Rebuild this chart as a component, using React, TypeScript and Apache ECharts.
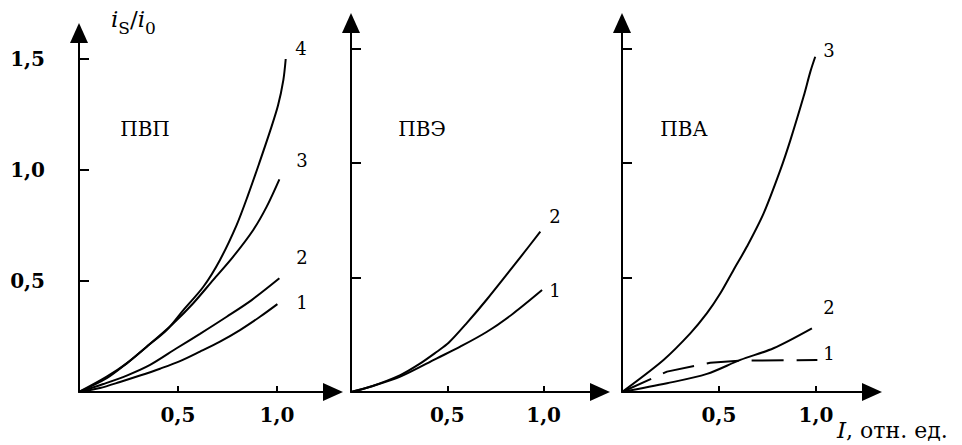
import React, { useEffect, useRef } from "react";
import * as echarts from "echarts";

// Tick values
const X_TICKS = [0.5, 1.0];
const Y_TICKS = [0.5, 1.0, 1.5];

// Panel titles
const PANEL_TITLES = ["ПВП", "ПВЭ", "ПВА"];

// ПВП curves [I, iS/i0]
const PVP_1: [number, number][] = [[0, 0], [0.106, 0.018], [0.207, 0.045], [0.308, 0.074], [0.409, 0.105], [0.51, 0.139], [0.611, 0.182], [0.712, 0.227], [0.813, 0.279], [0.914, 0.339], [1.002, 0.396]];
const PVP_2: [number, number][] = [[0, 0], [0.123, 0.036], [0.241, 0.074], [0.359, 0.122], [0.493, 0.197], [0.611, 0.262], [0.746, 0.339], [0.872, 0.414], [1.012, 0.512]];
const PVP_3: [number, number][] = [[0, 0], [0.14, 0.062], [0.241, 0.129], [0.342, 0.204], [0.476, 0.309], [0.577, 0.4], [0.678, 0.505], [0.779, 0.61], [0.88, 0.73], [0.948, 0.835], [1.012, 0.958]];
const PVP_4: [number, number][] = [[0, 0], [0.14, 0.069], [0.241, 0.129], [0.342, 0.204], [0.443, 0.279], [0.527, 0.369], [0.628, 0.474], [0.712, 0.595], [0.796, 0.752], [0.855, 0.89], [0.91, 1.03], [0.965, 1.175], [1.005, 1.29], [1.032, 1.405], [1.044, 1.5]];

// ПВЭ curves
const PVE_1: [number, number][] = [[0, 0], [0.1, 0.023], [0.256, 0.067], [0.446, 0.147], [0.567, 0.198], [0.706, 0.263], [0.844, 0.344], [0.992, 0.445]];
const PVE_2: [number, number][] = [[0, 0], [0.1, 0.023], [0.256, 0.074], [0.36, 0.125], [0.446, 0.176], [0.507, 0.215], [0.602, 0.302], [0.706, 0.405], [0.879, 0.588], [0.983, 0.7]];

// ПВА curves
const PVA_1: [number, number][] = [[0, 0], [0.232, 0.089], [0.455, 0.128], [0.61, 0.137], [1.007, 0.14]];
const PVA_2: [number, number][] = [[0, 0], [0.232, 0.038], [0.438, 0.079], [0.61, 0.14], [0.781, 0.191], [0.979, 0.278]];
const PVA_3: [number, number][] = [[0, 0], [0.214, 0.14], [0.352, 0.256], [0.438, 0.344], [0.507, 0.431], [0.575, 0.533], [0.644, 0.635], [0.73, 0.78], [0.816, 0.969], [0.868, 1.1], [0.936, 1.29], [0.971, 1.399], [0.996, 1.464]];

const FONT = "DejaVu Serif";
const fmt = (v: number) => v.toFixed(1).replace(".", ",");

export default function App() {
  const ref = useRef<HTMLDivElement>(null);
  useEffect(() => {
    if (!ref.current) return;
    const chart = echarts.init(ref.current, null, { renderer: "svg" });

    const grids = [
      { left: 79, top: 33, width: 254, height: 359 },
      { left: 351, top: 23, width: 249, height: 369 },
      { left: 622, top: 23, width: 250, height: 369 },
    ];
    const xMax = [254 / 198, 249 / 192.6, 250 / 194];
    const yMax = [359 / 222, 369 / 229, 369 / 229];

    const axisLine = {
      show: true,
      symbol: ["none", "triangle"],
      symbolSize: [18, 20],
      lineStyle: { color: "#000", width: 2 },
    };

    const labelStyle = {
      color: "#000",
      fontFamily: FONT,
      fontSize: 20,
      fontWeight: "bold",
    };

    const xAxes = grids.map((_, i) => ({
      type: "value",
      gridIndex: i,
      min: 0,
      max: xMax[i],
      axisLine,
      splitLine: { show: false },
      axisTick: { show: true, inside: true, length: 6, customValues: X_TICKS, lineStyle: { color: "#000", width: 2 } },
      axisLabel: {
        show: true,
        customValues: X_TICKS,
        formatter: (v: number) => fmt(v),
        margin: 13,
        ...labelStyle,
      },
    }));

    const yAxes = grids.map((_, i) => ({
      type: "value",
      gridIndex: i,
      min: 0,
      max: yMax[i],
      axisLine,
      splitLine: { show: false },
      axisTick: { show: true, inside: true, length: 10, customValues: Y_TICKS, lineStyle: { color: "#000", width: 2 } },
      axisLabel: {
        show: i === 0,
        customValues: Y_TICKS,
        formatter: (v: number) => fmt(v),
        margin: 34,
        ...labelStyle,
      },
    }));

    const line = (data: [number, number][], idx: number, dashed = false) => ({
      type: "line",
      xAxisIndex: idx,
      yAxisIndex: idx,
      data,
      showSymbol: false,
      smooth: dashed ? false : 0.3,
      lineStyle: { color: "#000", width: 2, type: dashed ? [32, 13] : "solid" },
      silent: true,
    });

    const txt = (text: string, x: number, y: number, size = 18) => ({
      type: "text",
      x,
      y,
      style: { text, fill: "#000", fontFamily: FONT, fontSize: size, align: "center", verticalAlign: "middle" },
    });

    chart.setOption({
      animation: false,
      backgroundColor: "#fff",
      grid: grids,
      xAxis: xAxes,
      yAxis: yAxes,
      series: [
        line(PVP_1, 0), line(PVP_2, 0), line(PVP_3, 0), line(PVP_4, 0),
        line(PVE_1, 1), line(PVE_2, 1),
        line(PVA_1, 2, true), line(PVA_2, 2), line(PVA_3, 2),
      ],
      graphic: [
        txt(PANEL_TITLES[0], 145, 129, 20),
        txt(PANEL_TITLES[1], 422, 129, 20),
        txt(PANEL_TITLES[2], 684, 129, 20),
        txt("4", 301, 48), txt("3", 302, 160), txt("2", 302, 257), txt("1", 302, 302),
        txt("2", 555, 216), txt("1", 555, 290),
        txt("3", 829, 50), txt("2", 829, 307), txt("1", 829, 353),
        {
          type: "text",
          x: 111,
          y: 24,
          style: {
            text: "{i|i}{s|S}{n|/}{i|i}{s|0}",
            fill: "#000",
            verticalAlign: "middle",
            rich: {
              i: { fontFamily: FONT, fontSize: 23, fontStyle: "italic", verticalAlign: "bottom", lineHeight: 24, padding: [0, 0, 6, 0] },
              n: { fontFamily: FONT, fontSize: 23, verticalAlign: "bottom", lineHeight: 24, padding: [0, 0, 6, 0] },
              s: { fontFamily: FONT, fontSize: 17, verticalAlign: "bottom", lineHeight: 18 },
            },
          },
        },
        {
          type: "text",
          x: 837,
          y: 430,
          style: {
            text: "{i|I}{n|, отн. ед.}",
            fill: "#000",
            verticalAlign: "middle",
            rich: {
              i: { fontFamily: FONT, fontSize: 23, fontStyle: "italic" },
              n: { fontFamily: FONT, fontSize: 22 },
            },
          },
        },
      ],
    });
    return () => chart.dispose();
  }, []);
  return <div ref={ref} style={{ position: "fixed", left: 0, top: 0, width: 962, height: 445, background: "#fff" }} />;
}
